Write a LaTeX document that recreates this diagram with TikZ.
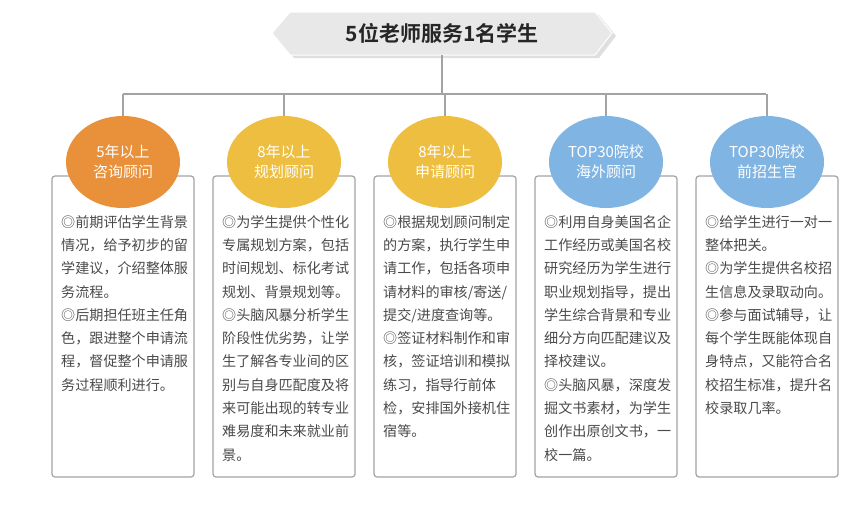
\documentclass[tikz,border=0pt]{standalone}
\usepackage{fontspec}
\setmainfont{Noto Sans CJK SC}
\newfontfamily\tfont{Noto Sans CJK SC Bold}
\usetikzlibrary{shapes.geometric}
\definecolor{lin}{HTML}{A3A3A3}
\definecolor{corg}{HTML}{E8903A}
\definecolor{cyel}{HTML}{EDBE40}
\definecolor{cblu}{HTML}{80B4E2}
\definecolor{txt}{HTML}{4A4A4A}
\tikzset{
 conn/.style={draw=lin,line width=1.2pt},
 card/.style={draw=lin,line width=1.2pt,rounded corners=3pt,fill=white},
 bubble/.style={ellipse,minimum width=114pt,minimum height=92pt,text=white,font=\fontsize{15}{20}\selectfont,align=center,inner sep=0pt},
 body/.style={anchor=north west,align=left,text=txt,inner sep=0pt,font=\fontsize{14.1}{23.3}\selectfont}
}
\begin{document}
\begin{tikzpicture}[x=1pt,y=-1pt]
\useasboundingbox (0,0) rectangle (860,506);
% title
\fill[gray!25] (276,36)--(294,15)--(599,15)--(616,36)--(599,58)--(294,58)--cycle;
\filldraw[fill=gray!18,draw=white,line width=1pt] (272,33)--(290,12)--(595,12)--(612,33)--(595,55)--(290,55)--cycle;
\node[font=\tfont\fontsize{21}{24}\selectfont,text=black!85] (title) at (442,33) {5位老师服务1名学生};
\coordinate (tb) at (442,55);
\coordinate (hub) at (442,94);
% cards
\foreach \n/\l in {1/52,2/213,3/374,4/535,5/696}{
  \draw[card] (\l,176) rectangle ++(142,301);
}
\coordinate (c1) at (123,94);
\coordinate (c5) at (766,94);
\draw[conn] (tb)--(hub);
\draw[conn] (c1)--(c5);
\node[bubble,fill=corg] (b1) at (123,162) {5年以上\\咨询顾问};
\node[bubble,fill=cyel] (b2) at (284,162) {8年以上\\规划顾问};
\node[bubble,fill=cyel] (b3) at (445,162) {8年以上\\申请顾问};
\node[bubble,fill=cblu] (b4) at (606,162) {TOP30院校\\海外顾问};
\node[bubble,fill=cblu] (b5) at (767,162) {TOP30院校\\前招生官};
\foreach \i in {1,...,5}{ \draw[conn] (b\i.north |- c1) -- (b\i.north); }
\node[body] (t1) at (61,215) {◎前期评估学生背景\\情况，给予初步的留\\学建议，介绍整体服\\务流程。\\◎后期担任班主任角\\色，跟进整个申请流\\程，督促整个申请服\\务过程顺利进行。};
\node[body] (t2) at (222,215) {◎为学生提供个性化\\专属规划方案，包括\\时间规划、标化考试\\规划、背景规划等。\\◎头脑风暴分析学生\\阶段性优劣势，让学\\生了解各专业间的区\\别与自身匹配度及将\\来可能出现的转专业\\难易度和未来就业前\\景。};
\node[body] (t3) at (383,215) {◎根据规划顾问制定\\的方案，执行学生申\\请工作，包括各项申\\请材料的审核/寄送/\\提交/进度查询等。\\◎签证材料制作和审\\核，签证培训和模拟\\练习，指导行前体\\检，安排国外接机住\\宿等。};
\node[body] (t4) at (544,215) {◎利用自身美国名企\\工作经历或美国名校\\研究经历为学生进行\\职业规划指导，提出\\学生综合背景和专业\\细分方向匹配建议及\\择校建议。\\◎头脑风暴，深度发\\掘文书素材，为学生\\创作出原创文书，一\\校一篇。};
\node[body] (t5) at (705,215) {◎给学生进行一对一\\整体把关。\\◎为学生提供名校招\\生信息及录取动向。\\◎参与面试辅导，让\\每个学生既能体现自\\身特点，又能符合名\\校招生标准，提升名\\校录取几率。};
\end{tikzpicture}
\end{document}
